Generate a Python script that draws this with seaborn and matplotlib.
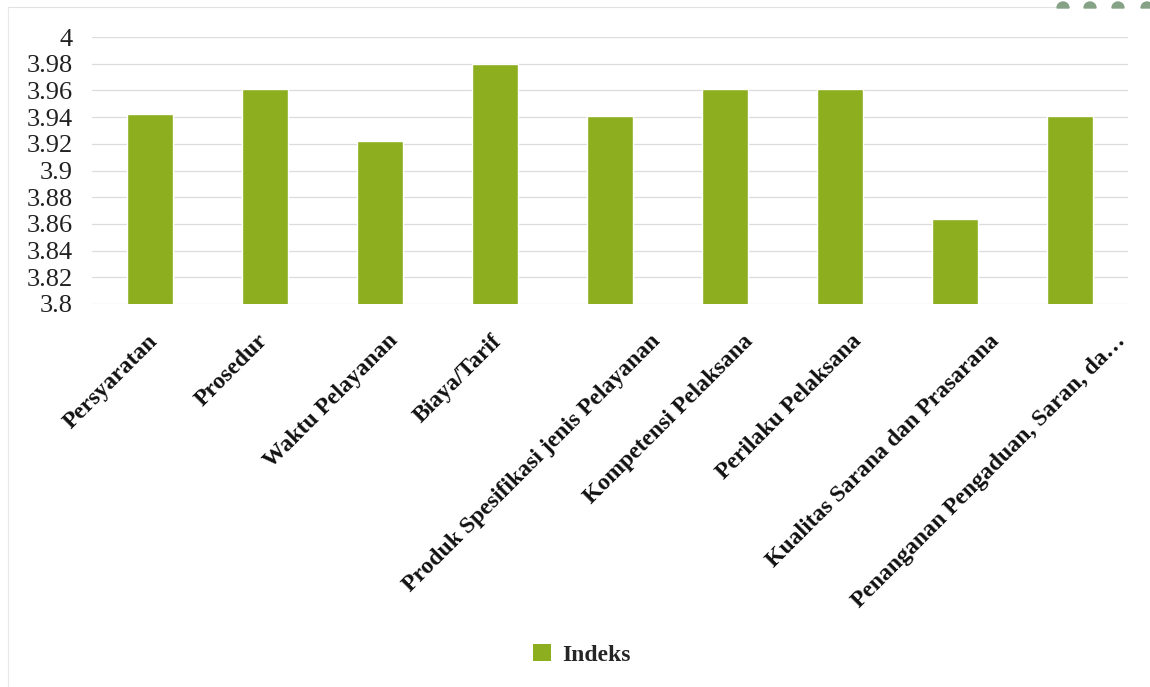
import matplotlib
matplotlib.use("Agg")
import matplotlib.pyplot as plt
import matplotlib.transforms as mtransforms
from matplotlib.lines import Line2D
from matplotlib.patches import Wedge, Patch
import numpy as np
import pandas as pd
import seaborn as sns

# Service-quality index per survey element
categories = [
    "Persyaratan",
    "Prosedur",
    "Waktu Pelayanan",
    "Biaya/Tarif",
    "Produk Spesifikasi jenis Pelayanan",
    "Kompetensi Pelaksana",
    "Perilaku Pelaksana",
    "Kualitas Sarana dan Prasarana",
    "Penanganan Pengaduan, Saran, da\u2026",
]
indeks = [3.942, 3.961, 3.922, 3.980, 3.941, 3.961, 3.961, 3.864, 3.941]
y_ticks = [3.80, 3.82, 3.84, 3.86, 3.88, 3.90, 3.92, 3.94, 3.96, 3.98, 4.00]
series_name = "Indeks"

bar_color = "#8DAE1E"
grid_color = "#dcdcdc"

sns.set_theme(style="white")
plt.rcParams["font.family"] = ["Liberation Serif", "DejaVu Serif"]

df = pd.DataFrame({"Unsur": categories, series_name: indeks})

W, H, DPI = 1150, 687, 100
fig = plt.figure(figsize=(W / DPI, H / DPI), dpi=DPI)
ax = fig.add_axes([92 / W, 1 - 304 / H, (1128 - 92) / W, (304 - 37) / H])

sns.barplot(data=df, x="Unsur", y=series_name, color=bar_color, width=0.4,
            saturation=1, ax=ax, zorder=3)

ax.set_ylim(3.8, 4.0)
ax.set_xlim(-0.5, len(categories) - 0.5)
ax.set_yticks(y_ticks)
ax.set_yticklabels([f"{v:g}" for v in y_ticks], fontsize=19, color="#222222")
ax.tick_params(axis="y", length=0, pad=14)
ax.tick_params(axis="x", length=0, pad=19)
ax.yaxis.grid(True, color=grid_color, linewidth=0.9, zorder=0)
ax.xaxis.grid(False)
for s in ax.spines.values():
    s.set_visible(False)
ax.set_xlabel("")
ax.set_ylabel("")

ax.set_xticks(range(len(categories)))
ax.set_xticklabels(categories, rotation=45, ha="right", va="top",
                   rotation_mode="anchor", fontsize=17, fontweight="bold",
                   color="#111111")

# longer rotated labels sit a little further to the right of their tick
fig.canvas.draw()
renderer = fig.canvas.get_renderer()
for lab in ax.get_xticklabels():
    dx = lab.get_window_extent(renderer).width
    shift_px = 0.26 * dx - 29
    lab.set_transform(lab.get_transform() +
                      mtransforms.ScaledTranslation(shift_px / DPI, 0,
                                                    fig.dpi_scale_trans))

handle = Patch(facecolor=bar_color, edgecolor="none", label=series_name)
fig.legend(handles=[handle], loc="center", bbox_to_anchor=(582 / W, 1 - 655 / H),
           frameon=False, handlelength=0.75, handleheight=0.75, handletextpad=0.5,
           prop={"family": "Liberation Serif", "weight": "bold", "size": 17})

# light page frame with small dome ornaments on the top edge
fig.add_artist(Line2D([8 / W, 1055 / W], [1 - 7 / H, 1 - 7 / H],
                      transform=fig.transFigure, color="#e2e2e2", lw=0.8))
fig.add_artist(Line2D([8 / W, 8 / W], [1 - 7 / H, 0],
                      transform=fig.transFigure, color="#e8e8e8", lw=0.8))
for cx in [1063, 1090, 1118, 1147]:
    w = Wedge((cx, H - 8), 6, 0, 180, transform=None, color="#86a286")
    fig.add_artist(w)

fig.savefig("out.png", dpi=DPI)
